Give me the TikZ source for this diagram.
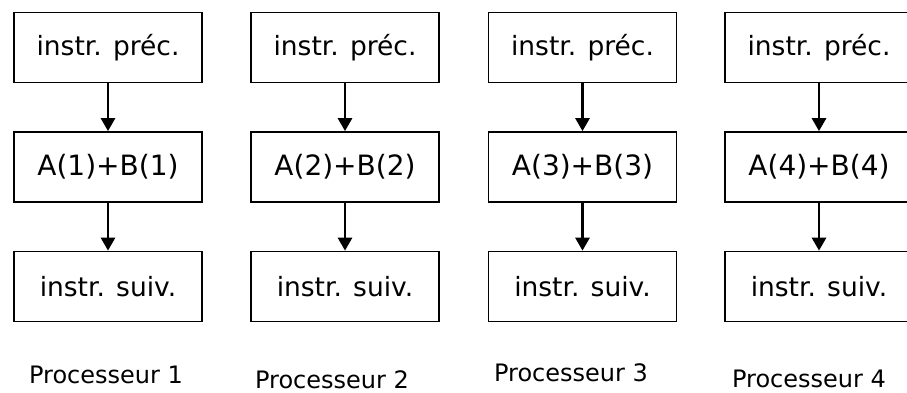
\documentclass[tikz,border=0pt]{standalone}
\usepackage{fontspec}
\setmainfont{DejaVu Sans}
\usetikzlibrary{arrows.meta}
\begin{document}
\begin{tikzpicture}[x=1pt,y=-1pt,
  stepbox/.style={draw=black,line width=1.7pt,minimum width=188pt,minimum height=70pt,
    inner sep=0pt,font=\fontsize{26.5}{30}\selectfont},
  sumbox/.style={stepbox,font=\fontsize{28}{32}\selectfont},
  flow/.style={line width=2.8pt,-{Triangle[length=13pt,width=14pt]}},
  proclabel/.style={font=\fontsize{24}{28}\selectfont,inner sep=0pt}]
\useasboundingbox (0,0) rectangle (907,393);
\clip (0,0) rectangle (907,393);
% one column per processor: centre x of box, centre x of label, label y
\foreach \i/\cx/\lx/\ly in {1/108/106/375, 2/345/332/380, 3/582.5/571/373, 4/819/809/379}{
  \node[stepbox] (p\i) at (\cx,47.5) {instr. préc.};
  \node[sumbox] (a\i) at (\cx,167) {A(\i)+B(\i)};
  \node[stepbox] (s\i) at (\cx,286.5) {instr. suiv.};
  \node[proclabel] (l\i) at (\lx,\ly) {Processeur \i};
  \draw[flow] (p\i.south) -- (a\i.north);
  \draw[flow] (a\i.south) -- (s\i.north);
}
\end{tikzpicture}
\end{document}
